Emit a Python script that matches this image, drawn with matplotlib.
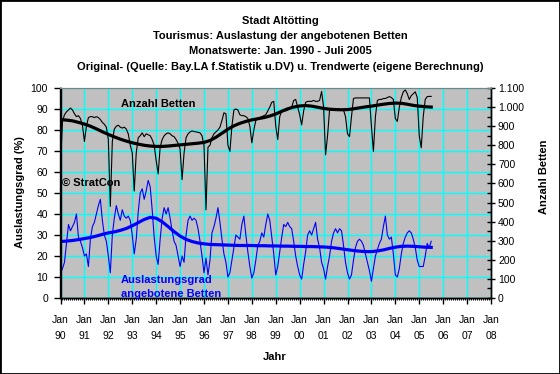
import matplotlib
matplotlib.use('Agg')
import matplotlib.pyplot as plt
from matplotlib.patches import Rectangle
from matplotlib.ticker import MultipleLocator, FuncFormatter
import numpy as np

plt.rcParams['font.family'] = ['Liberation Sans', 'DejaVu Sans']

titel = ['Stadt Altötting',
         'Tourismus: Auslastung der angebotenen Betten',
         'Monatswerte: Jan. 1990 - Juli 2005',
         'Original- (Quelle: Bay.LA f.Statistik u.DV) u. Trendwerte (eigene Berechnung)']

jahre = ['90', '91', '92', '93', '94', '95', '96', '97', '98', '99',
         '00', '01', '02', '03', '04', '05', '06', '07', '08']

# Auslastungsgrad (%), Monatswerte Jan 1990 - Jul 2005
auslastung = [
    12, 14, 17, 26, 35, 32, 34, 36, 40, 29, 27, 24,      # 1990
    20, 21, 15, 28, 34, 36, 40, 44, 47, 37, 30, 27,      # 1991
    20, 12, 30, 38, 44, 40, 37, 42, 39, 38, 39, 37,      # 1992
    30, 21, 28, 41, 50, 52, 47, 51, 56, 53, 42, 29,      # 1993
    20, 16, 28, 38, 43, 40, 43, 38, 32, 27, 25, 20,      # 1994
    15, 20, 17, 30, 37, 39, 37, 38, 37, 33, 27, 20,      # 1995
    12, 19, 11, 18, 31, 34, 38, 43, 36, 28, 21, 17,      # 1996
    10, 12, 18, 24, 30, 29, 28, 35, 39, 30, 22, 15,      # 1997
    9.5, 12, 18, 25, 27, 31, 29, 35, 40, 37, 29, 21,     # 1998
    11, 15, 22, 29, 35, 34, 36, 34, 33, 27, 20, 15,      # 1999
    11, 9, 16, 22, 30, 32, 30, 33, 36, 28, 24, 17,       # 2000
    14, 9, 15, 20, 27, 31, 33, 31, 33, 32, 25, 17,       # 2001
    12, 9, 11, 18, 24, 27, 28, 27, 25, 21, 17, 13,       # 2002
    8, 14, 20, 23, 26, 28, 34, 39, 30, 28, 29, 21,       # 2003
    11, 10, 14, 21, 26, 29, 31, 32, 31, 28, 24, 18,      # 2004
    15, 15, 15, 20, 26, 24, 27,                          # 2005
]

# Anzahl angebotene Betten, Monatswerte
betten = [
    700, 925, 960, 975, 985, 995, 985, 965, 950, 955, 940, 905,
    820, 900, 945, 950, 950, 945, 950, 945, 935, 920, 910, 895,
    830, 480, 820, 885, 900, 905, 895, 890, 895, 885, 860, 800,
    760, 560, 760, 840, 850, 865, 845, 860, 855, 850, 830, 800,
    720, 650, 790, 830, 850, 860, 865, 860, 850, 845, 830, 810,
    780, 620, 760, 840, 860, 870, 875, 872, 870, 868, 865, 850,
    800, 462, 790, 800, 840, 860, 870, 880, 895, 930, 970, 965,
    800, 768, 900, 985, 990, 985, 960, 955, 955, 950, 940, 900,
    813, 880, 930, 940, 945, 950, 955, 960, 980, 1000, 1025, 1030,
    900, 830, 950, 980, 985, 980, 985, 990, 1000, 1035, 1040, 1000,
    960, 907, 980, 1025, 1030, 1030, 1030, 1035, 1030, 1030, 1035, 1082,
    1000, 750, 850, 986, 985, 985, 985, 985, 985, 985, 985, 950,
    860, 845, 950, 1045, 1048, 1048, 1048, 1048, 1048, 1048, 1048, 1048,
    900, 768, 950, 1035, 1040, 1040, 1045, 1045, 1050, 1055, 1050, 1040,
    940, 925, 1000, 1050, 1080, 1090, 1070, 1040, 1060, 1070, 1080, 1050,
    850, 787, 950, 1040, 1055, 1056, 1056,
]

# Trendwerte, vierteljaehrlich (Jan, Apr, Jul, Okt ...)
ausl_trend = [
    26.9, 27.1, 27.4, 27.8, 28.3, 28.8, 29.5, 30.3, 31.0, 31.5, 32.2, 33.1,
    34.4, 35.9, 37.4, 38.4, 38.0, 36.3, 34.0, 31.6, 29.5, 27.9, 26.9, 26.2,
    25.8, 25.5, 25.4, 25.3, 25.2, 25.1, 25.0, 25.0, 25.0, 24.9, 24.9, 24.8,
    24.8, 24.7, 24.7, 24.6, 24.6, 24.5, 24.5, 24.4, 24.3, 24.1, 23.8, 23.4,
    23.0, 22.6, 22.3, 22.1, 22.1, 22.4, 22.9, 23.6, 24.2, 24.6, 24.7, 24.6,
    24.4, 24.2, 24.1,
]
betten_trend = [
    934, 932, 928, 920, 911, 900, 886, 871, 857, 844, 832, 822,
    813, 806, 800, 796, 794, 794, 796, 799, 802, 805, 808, 811,
    815, 825, 842, 863, 884, 902, 915, 925, 933, 939, 945, 953,
    964, 978, 991, 1000, 1006, 1008, 1005, 999, 993, 989, 987, 986,
    987, 991, 996, 1001, 1005, 1010, 1015, 1019, 1021, 1020, 1015, 1009,
    1005, 1002, 1000,
]

W, H = 560, 374
fig = plt.figure(figsize=(W / 100, H / 100), dpi=100)
ax = fig.add_axes([60.5 / W, 1 - 298 / H, (491 - 60.5) / W, (298 - 88) / H])
ax.set_facecolor('#c0c0c0')

monate = np.arange(len(auslastung))
ax.set_xlim(0, 216)
ax.set_ylim(0, 100)
ax.set_yticks(range(0, 101, 10))
ax.set_xticks(range(0, 217, 12))
ax.set_xticklabels(['Jan\n' + j for j in jahre], linespacing=1.75)
ax.set_xticks(range(0, 217), minor=True)
ax.grid(True, which='major', color='#00ffff', lw=1)
ax.set_axisbelow(True)
ax.tick_params(axis='y', direction='out', length=5, width=1, pad=4, labelsize=7.5)
ax.tick_params(axis='x', which='major', direction='out', length=4, width=1, pad=8, labelsize=7.5)
ax.tick_params(axis='x', which='minor', direction='out', length=1.5, width=0.8)

ax.plot(monate, auslastung, color='#0000ff', lw=0.8)
ax.plot(np.arange(len(ausl_trend)) * 3, ausl_trend, color='#0000ff', lw=2.3)

ax2 = ax.twinx()
ax2.set_ylim(0, 1100)
ax2.set_yticks(range(0, 1101, 100))
ax2.yaxis.set_minor_locator(MultipleLocator(50))
ax2.yaxis.set_major_formatter(FuncFormatter(lambda v, p: f'{int(v):,}'.replace(',', '.')))
ax2.tick_params(axis='y', which='major', direction='inout', length=6, width=1, pad=2, labelsize=7.5)
ax2.tick_params(axis='y', which='minor', direction='in', length=3, width=1)
ax2.plot(monate, betten, color='black', lw=0.8)
ax2.plot(np.arange(len(betten_trend)) * 3, betten_trend, color='black', lw=2.3)

for a in (ax, ax2):
    for s in ('left', 'right', 'bottom'):
        a.spines[s].set_color('black')
        a.spines[s].set_linewidth(1)
    a.spines['top'].set_color('#808080')

# Texte
for i, t in enumerate(titel):
    fig.text(0.5, 1 - (21 + i * 15.2) / H, t, ha='center', va='center',
             fontsize=8, fontweight='bold')
fig.text(20 / W, 1 - 192 / H, 'Auslastungsgrad (%)', rotation=90, ha='center',
         va='center', fontsize=8, fontweight='bold')
fig.text(544 / W, 1 - 177 / H, 'Anzahl Betten', rotation=90, ha='center',
         va='center', fontsize=8, fontweight='bold')
fig.text(275 / W, 1 - 357 / H, 'Jahr', ha='center', va='center',
         fontsize=8, fontweight='bold')
fig.text(121 / W, 1 - 104 / H, 'Anzahl Betten', ha='left', va='center',
         fontsize=8, fontweight='bold')
fig.text(62 / W, 1 - 183 / H, '© StratCon', ha='left', va='center',
         fontsize=8, fontweight='bold')
fig.text(121 / W, 1 - 280 / H, 'Auslastungsgrad', ha='left', va='center',
         fontsize=8, fontweight='bold', color='#0000ff')
fig.text(121 / W, 1 - 294 / H, 'angebotene Betten', ha='left', va='center',
         fontsize=8, fontweight='bold', color='#0000ff')

fig.add_artist(Rectangle((0, 0), 1, 1, transform=fig.transFigure, fill=False,
                         edgecolor='black', lw=2))

fig.savefig('out.png', dpi=100)
plt.close(fig)
